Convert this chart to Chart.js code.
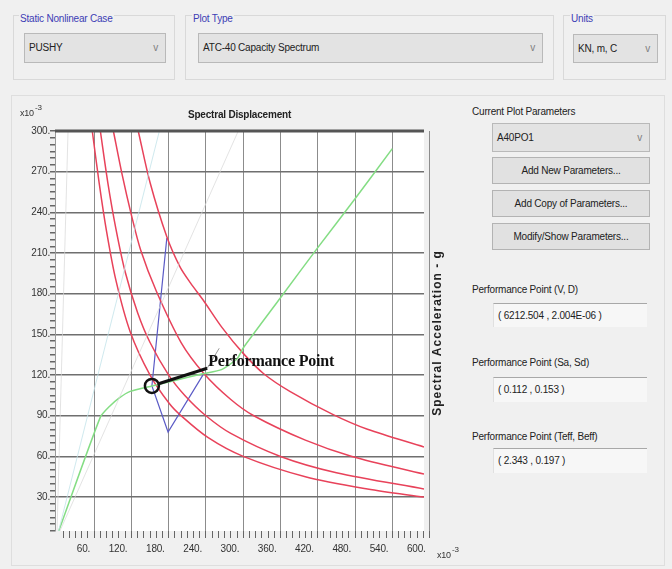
<!DOCTYPE html>
<html>
<head>
<meta charset="utf-8">
<script src="https://cdn.jsdelivr.net/npm/chart.js@4.4.0/dist/chart.umd.min.js"></script>
<style>
  body { margin: 0; width: 672px; height: 569px; background: #f0f0f0; position: relative; overflow: hidden;
         font-family: "Liberation Sans", Arial, sans-serif; font-size: 10px; letter-spacing: -0.2px; color: #222; }
  .grp { position: absolute; border: 1px solid #d9d9d9; }
  .grp-label { position: absolute; color: #3d3db5; background: #f0f0f0; padding: 0 1px; }
  .combo { position: absolute; box-sizing: border-box; background: #e3e3e3; border: 1px solid #b9b9b9;
           padding-left: 4px; }
  .combo .arr { position: absolute; right: 7px; top: 0; color: #808080; font-size: 10px; }
  .btn { position: absolute; box-sizing: border-box; background: #e1e1e1; border: 1px solid #b3b3b3;
         text-align: center; }
  .lbl { position: absolute; }
  .ro { position: absolute; box-sizing: border-box; background: #f7f7f7; border-top: 1px solid #a8a8a8;
        border-left: 1px solid #e0e0e0; padding-left: 4px; }
  #panel { position: absolute; left: 11px; top: 95px; width: 652px; height: 469px; border: 1px solid #dedede; }
  #chartBox { position: absolute; left: 0; top: 90px; }
</style>
</head>
<body>
<div class="grp" style="left:13px;top:15px;width:160px;height:63px;"></div>
<div class="grp-label" style="left:19px;top:13px;">Static Nonlinear Case</div>
<div class="combo" style="left:24px;top:33px;width:142px;height:30px;line-height:28px;">PUSHY<span class="arr">v</span></div>

<div class="grp" style="left:185px;top:15px;width:367px;height:63px;"></div>
<div class="grp-label" style="left:192px;top:13px;">Plot Type</div>
<div class="combo" style="left:198px;top:33px;width:345px;height:30px;line-height:28px;">ATC-40 Capacity Spectrum<span class="arr">v</span></div>

<div class="grp" style="left:563px;top:15px;width:101px;height:63px;"></div>
<div class="grp-label" style="left:570px;top:13px;">Units</div>
<div class="combo" style="left:573px;top:34px;width:85px;height:29px;line-height:27px;">KN, m, C<span class="arr">v</span></div>

<div id="panel"></div>

<div class="lbl" style="left:472px;top:106px;">Current Plot Parameters</div>
<div class="combo" style="left:492px;top:123px;width:158px;height:29px;line-height:27px;">A40PO1<span class="arr">v</span></div>
<div class="btn" style="left:492px;top:157px;width:158px;height:27px;line-height:25px;">Add New Parameters...</div>
<div class="btn" style="left:492px;top:190px;width:158px;height:27px;line-height:25px;">Add Copy of Parameters...</div>
<div class="btn" style="left:492px;top:223px;width:158px;height:27px;line-height:25px;">Modify/Show Parameters...</div>

<div class="lbl" style="left:472px;top:284px;">Performance Point (V, D)</div>
<div class="ro" style="left:493px;top:303px;width:154px;height:24px;line-height:23px;">( 6212.504 , 2.004E-06 )</div>
<div class="lbl" style="left:472px;top:357px;">Performance Point (Sa, Sd)</div>
<div class="ro" style="left:493px;top:377px;width:154px;height:25px;line-height:24px;">( 0.112 , 0.153 )</div>
<div class="lbl" style="left:472px;top:431px;">Performance Point (Teff, Beff)</div>
<div class="ro" style="left:493px;top:448px;width:154px;height:25px;line-height:24px;">( 2.343 , 0.197 )</div>

<div id="chartBox"><canvas id="spectrumChart" width="470" height="479"></canvas></div>

<script>
// all values in x10^-3 (Sd in m, Sa in g)
const xTickLabels = [60, 120, 180, 240, 300, 360, 420, 480, 540, 600];
const yTickLabels = [30, 60, 90, 120, 150, 180, 210, 240, 270, 300];
const xMinorStep = 10;
const yMinorStep = 5;

// capacity spectrum (green)
const capSd = [3, 70, 85, 100, 118, 153, 190, 235, 265, 290, 300, 360, 420, 480, 540];
const capSa = [5, 89, 97, 103, 108, 112, 116, 121, 124, 132, 140, 177, 214, 250, 287];

// demand spectra (red), outer to inner
const demandA_sd = [131, 150, 177, 198, 215, 236, 266, 300, 333, 375, 444, 500, 591];
const demandA_sa = [300, 262, 222, 200, 188, 175, 155, 136, 121, 108, 91, 80, 67];
const demandB_sd = [91, 105, 120, 135, 160, 200, 237, 280, 317, 400, 475, 591];
const demandB_sa = [300, 268, 238, 212, 182, 144, 121, 102, 90, 72, 60, 47];
const demandC_sd = [70, 82, 95, 110, 130, 150, 180, 206, 240, 280, 360, 450, 591];
const demandC_sa = [300, 262, 228, 196, 166, 144, 120, 105, 90, 77, 60, 48, 36];
const demandD_sd = [57, 68, 80, 95, 118, 150, 181, 200, 243, 300, 400, 500, 591];
const demandD_sa = [300, 262, 226, 190, 152, 120, 99, 90, 74, 60, 45, 36, 30];

// single demand / reduction trace (blue)
const traceSd = [177, 153, 179, 235];
const traceSa = [221, 112, 78, 120];

// constant period lines (faint)
const periodLine1_sd = [0, 18];
const periodLine1_sa = [0, 300];
const periodLine2_sd = [0, 165];
const periodLine2_sa = [0, 300];
const periodLine3_sd = [0, 292];
const periodLine3_sa = [0, 300];

const perfPoint = [153, 112];
const labelAnchor = [242, 125];

function pts(xs, ys) {
    return xs.map((v, i) => ({ x: v, y: ys[i] }));
}

function lineSet(xs, ys, color, width, tension) {
    return {
        data: pts(xs, ys),
        showLine: true,
        borderColor: color,
        borderWidth: width,
        pointRadius: 0,
        tension: tension,
        fill: false,
    };
}

const overlayPlugin = {
    id: "overlay",
    beforeDraw(chart) {
        const { ctx, chartArea: a } = chart;
        ctx.save();
        ctx.fillStyle = "#ffffff";
        ctx.fillRect(a.left, a.top, a.width, a.height);
        ctx.restore();
    },
    afterDraw(chart) {
        const { ctx, chartArea: a } = chart;
        const x = chart.scales.x;
        const y = chart.scales.y;
        ctx.save();

        // heavy top frame
        ctx.strokeStyle = "#555555";
        ctx.lineWidth = 3;
        ctx.beginPath();
        ctx.moveTo(a.left, a.top);
        ctx.lineTo(a.right, a.top);
        ctx.stroke();

        // performance point callout
        const px = x.getPixelForValue(perfPoint[0]);
        const py = y.getPixelForValue(perfPoint[1]);
        const lx = x.getPixelForValue(labelAnchor[0]);
        const ly = y.getPixelForValue(labelAnchor[1]);
        const ang = Math.atan2(ly - py, lx - px);
        ctx.strokeStyle = "#111111";
        ctx.lineWidth = 3;
        ctx.beginPath();
        ctx.moveTo(px + Math.cos(ang) * 7, py + Math.sin(ang) * 7);
        ctx.lineTo(lx, ly);
        ctx.stroke();
        ctx.lineWidth = 2.5;
        ctx.beginPath();
        ctx.arc(px, py, 7, 0, Math.PI * 2);
        ctx.stroke();
        ctx.strokeStyle = "#9a9a9a";
        ctx.lineWidth = 1;
        ctx.beginPath();
        ctx.moveTo(lx, ly);
        ctx.lineTo(lx + 12, ly - 20);
        ctx.stroke();
        ctx.fillStyle = "#111111";
        ctx.font = "bold 16px 'Liberation Serif', 'Times New Roman', serif";
        ctx.textAlign = "left";
        ctx.textBaseline = "alphabetic";
        ctx.fillText("Performance Point", lx + 1, ly - 2);

        // axis multipliers
        ctx.fillStyle = "#333333";
        ctx.font = "9px 'Liberation Sans', Arial, sans-serif";
        ctx.fillText("x10", a.left - 35, a.top - 15);
        ctx.fillText("x10", a.right + 13, a.bottom + 27);
        ctx.font = "8px 'Liberation Sans', Arial, sans-serif";
        ctx.fillText("-3", a.left - 20, a.top - 21);
        ctx.fillText("-3", a.right + 28, a.bottom + 21);

        // right-hand axis title
        ctx.translate(a.right + 14, (a.top + a.bottom) / 2 + 2);
        ctx.rotate(-Math.PI / 2);
        ctx.font = "bold 12px 'Liberation Sans', Arial, sans-serif";
        ctx.letterSpacing = "1px";
        ctx.fillStyle = "#222222";
        ctx.textAlign = "center";
        ctx.textBaseline = "middle";
        ctx.fillText("Spectral Acceleration - g", 0, 0);
        ctx.restore();
    },
};

const ctx = document.getElementById("spectrumChart").getContext("2d");
new Chart(ctx, {
    type: "scatter",
    data: {
        datasets: [
            lineSet(periodLine1_sd, periodLine1_sa, "rgba(215, 215, 215, 0.7)", 1, 0),
            lineSet(periodLine2_sd, periodLine2_sa, "rgba(195, 228, 234, 0.8)", 1, 0),
            lineSet(periodLine3_sd, periodLine3_sa, "rgba(215, 215, 215, 0.7)", 1, 0),
            lineSet(capSd, capSa, "#84dd84", 1.5, 0.2),
            lineSet(demandA_sd, demandA_sa, "#e8425a", 1.5, 0.3),
            lineSet(demandB_sd, demandB_sa, "#e8425a", 1.5, 0.3),
            lineSet(demandC_sd, demandC_sa, "#e8425a", 1.5, 0.3),
            lineSet(demandD_sd, demandD_sa, "#e8425a", 1.5, 0.3),
            lineSet(traceSd, traceSa, "#5b5bc6", 1.2, 0),
        ],
    },
    plugins: [overlayPlugin],
    options: {
        responsive: false,
        animation: false,
        layout: { padding: { left: 0, right: 46, top: 0, bottom: 0 } },
        plugins: {
            legend: { display: false },
            tooltip: { enabled: false },
            title: {
                display: true,
                text: "Spectral Displacement",
                fullSize: false,
                color: "#222222",
                font: { family: "'Liberation Sans', Arial, sans-serif", size: 10, weight: "bold" },
                padding: { top: 19, bottom: 10 },
            },
        },
        scales: {
            x: {
                type: "linear",
                min: -3,
                max: 591,
                afterBuildTicks: (scale) => {
                    const ticks = [];
                    for (let v = xMinorStep; v <= 600; v += xMinorStep) ticks.push({ value: v });
                    scale.ticks = ticks;
                },
                afterFit: (scale) => { scale.height = 38; },
                ticks: {
                    autoSkip: false,
                    maxRotation: 0,
                    align: "end",
                    labelOffset: -4,
                    padding: 5,
                    color: "#333333",
                    font: { family: "'Liberation Sans', Arial, sans-serif", size: 10 },
                    callback: (value) => (xTickLabels.includes(value) ? value + "." : ""),
                },
                grid: {
                    color: (c) => (c.tick && xTickLabels.includes(c.tick.value) ? "#8c8c8c" : "rgba(0,0,0,0)"),
                    tickColor: "#666666",
                    tickLength: 7,
                },
                border: { display: false },
            },
            y: {
                type: "linear",
                min: 5,
                max: 300,
                afterBuildTicks: (scale) => {
                    const ticks = [];
                    for (let v = yMinorStep; v <= 300; v += yMinorStep) ticks.push({ value: v });
                    scale.ticks = ticks;
                },
                afterFit: (scale) => { scale.width = 55; },
                ticks: {
                    autoSkip: false,
                    padding: 0,
                    color: "#333333",
                    font: { family: "'Liberation Sans', Arial, sans-serif", size: 10 },
                    callback: (value) => (yTickLabels.includes(value) ? value + "." : ""),
                },
                grid: {
                    color: (c) => (c.tick && yTickLabels.includes(c.tick.value) ? "#6f6f6f" : "rgba(0,0,0,0)"),
                    lineWidth: 1.5,
                    tickColor: "#666666",
                    tickLength: 5,
                },
                border: { display: true, color: "#9a9a9a" },
            },
        },
    },
});
</script>
</body>
</html>
